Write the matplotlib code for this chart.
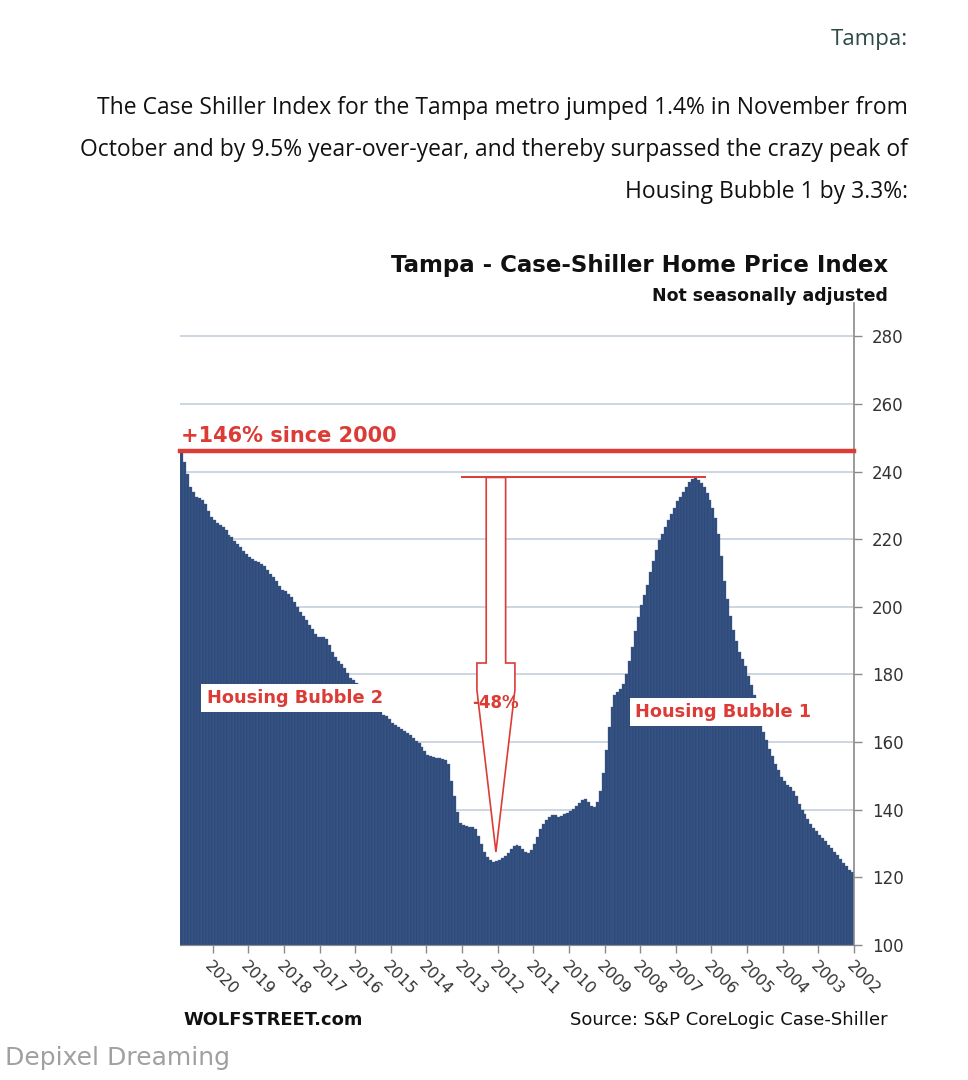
import matplotlib
matplotlib.use("Agg")
import matplotlib.pyplot as plt
from matplotlib.patches import Polygon

# ---------------- data ----------------
years = list(range(2002, 2021))
year_labels = [str(y) for y in years]

idx_2002 = [121.5, 122.3, 123.2, 124.3, 125.5, 126.6, 127.6, 128.6, 129.5, 130.6, 131.6, 132.5]
idx_2003 = [133.6, 134.5, 135.8, 137.3, 138.6, 139.9, 141.8, 144.2, 145.5, 146.6, 147.4, 148.4]
idx_2004 = [149.8, 151.6, 153.6, 155.8, 158.1, 160.6, 163.0, 166.2, 170.2, 173.8, 176.8, 179.6]
idx_2005 = [182.4, 184.6, 186.8, 189.8, 193.2, 197.4, 202.2, 207.6, 215.0, 221.6, 226.2, 229.2]
idx_2006 = [231.6, 233.6, 235.4, 236.8, 237.6, 238.1, 237.8, 236.9, 235.4, 234.0, 232.6, 231.2]
idx_2007 = [229.4, 227.6, 225.6, 223.6, 221.6, 219.8, 216.8, 213.6, 210.2, 206.6, 203.4, 200.6]
idx_2008 = [197.0, 192.8, 188.2, 184.0, 180.0, 177.2, 175.6, 174.8, 174.0, 170.4, 164.5, 157.8]
idx_2009 = [150.8, 145.4, 142.4, 140.8, 141.0, 142.2, 143.2, 143.0, 142.0, 141.2, 140.2, 139.6]
idx_2010 = [139.0, 138.6, 138.0, 137.8, 138.3, 138.5, 137.8, 136.9, 135.8, 134.2, 132.0, 129.8]
idx_2011 = [128.2, 127.2, 127.4, 128.4, 129.2, 129.6, 129.4, 128.4, 127.2, 126.4, 125.8, 125.2]
idx_2012 = [124.8, 124.5, 125.0, 126.1, 127.6, 129.8, 132.2, 134.2, 134.8, 135.0, 135.2, 135.6]
idx_2013 = [136.0, 139.2, 144.0, 148.6, 153.6, 154.8, 155.0, 155.2, 155.4, 155.7, 155.9, 156.2]
idx_2014 = [157.4, 158.6, 159.8, 160.4, 161.2, 162.0, 162.7, 163.3, 164.0, 164.6, 165.0, 165.6]
idx_2015 = [166.8, 167.6, 168.1, 169.4, 170.6, 171.8, 172.8, 173.8, 174.8, 175.8, 176.8, 177.6]
idx_2016 = [178.3, 179.0, 180.4, 181.9, 183.0, 184.0, 185.3, 186.8, 188.6, 190.4, 191.0, 191.1]
idx_2017 = [191.0, 192.0, 193.4, 194.6, 196.0, 197.2, 198.6, 199.9, 201.4, 202.9, 203.8, 204.6]
idx_2018 = [204.9, 206.2, 207.6, 208.8, 209.8, 211.0, 212.2, 212.8, 213.2, 213.6, 214.2, 214.8]
idx_2019 = [215.6, 216.4, 217.6, 218.7, 219.6, 220.6, 221.4, 222.8, 223.6, 224.2, 224.8, 225.6]
idx_2020 = [226.6, 228.4, 230.4, 231.6, 232.2, 232.6, 234.0, 235.6, 239.2, 242.8, 246.1]

index_values = (idx_2002 + idx_2003 + idx_2004 + idx_2005 + idx_2006 + idx_2007 +
                idx_2008 + idx_2009 + idx_2010 + idx_2011 + idx_2012 + idx_2013 +
                idx_2014 + idx_2015 + idx_2016 + idx_2017 + idx_2018 + idx_2019 + idx_2020)

latest_level = 246.1        # Nov 2020 -> "+146% since 2000"
bubble1_peak = 238.3        # 2006 peak
trough_level = 127.5        # 2012 trough (arrow tip)

y_ticks = [100, 120, 140, 160, 180, 200, 220, 240, 260, 280]

# ---------------- figure ----------------
W, H = 968, 1080
fig = plt.figure(figsize=(W / 100, H / 100), dpi=100)
fig.patch.set_facecolor("white")

def fx(x):
    return x / W

def fy(y):
    return 1 - y / H

ax_left, ax_right = 180, 854
ax_top, ax_bottom = 302.7, 944.9
ax = fig.add_axes([fx(ax_left), fy(ax_bottom), fx(ax_right - ax_left), (ax_bottom - ax_top) / H])

RED = "#DC3B36"
NAVY = "#2F4B7C"

months = list(range(len(index_values)))
ax.bar(months, [v - 100 for v in index_values], bottom=100, width=1.0,
       color=NAVY, edgecolor="#4a6390", linewidth=0.25, zorder=2)

ax.set_xlim(226.5, -0.5)
ax.set_ylim(100, 290)

# grid
ax.set_yticks(y_ticks)
ax.yaxis.grid(True, color="#c9d2df", linewidth=1.3, zorder=0)
ax.set_axisbelow(True)

ax.yaxis.tick_right()
ax.tick_params(axis="y", direction="out", length=6, width=1, color="#8a8a8a",
               labelsize=12, labelcolor="#333333", pad=7)
for s in ["left", "top"]:
    ax.spines[s].set_visible(False)
ax.spines["right"].set_color("#8a8a8a")
ax.spines["right"].set_linewidth(1.2)
ax.spines["bottom"].set_color("#8a8a8a")

xt = [12 * i - 0.5 for i in range(len(years))]
ax.set_xticks(xt)
ax.set_xticklabels(year_labels, rotation=-45, ha="left", va="top",
                   rotation_mode="anchor", fontsize=11.5, color="#333333")
ax.tick_params(axis="x", direction="out", length=6, width=1, color="#8a8a8a", pad=4)

# thick red line: latest level
ax.axhline(latest_level, color=RED, linewidth=3.2, zorder=4, clip_on=False)
ax.text(226.0, latest_level + 1.4, "+146% since 2000", color=RED, fontsize=15,
        fontweight="bold", ha="left", va="bottom", zorder=5)

# thin red line at the bubble 1 peak
ax.plot([49.6, 131.6], [bubble1_peak, bubble1_peak], color=RED, linewidth=1.4, zorder=4)

# block arrow from the peak to the trough
cx = 120.1
sw = 3.27
hw = 6.4
shaft_bottom = 183.4
head_straight = 175.4
arrow = Polygon([(cx - sw, bubble1_peak), (cx + sw, bubble1_peak), (cx + sw, shaft_bottom),
                 (cx + hw, shaft_bottom), (cx + hw, head_straight), (cx, trough_level),
                 (cx - hw, head_straight), (cx - hw, shaft_bottom), (cx - sw, shaft_bottom)],
                closed=True, facecolor="white", edgecolor=RED, linewidth=1.2, zorder=5)
ax.add_patch(arrow)
ax.text(cx, 171.5, "-48%", color=RED, fontsize=12, fontweight="bold",
        ha="center", va="center", zorder=6)

box = dict(boxstyle="square,pad=0.3", facecolor="white", edgecolor="none")
ax.text(187.9, 173.0, "Housing Bubble 2", color=RED, fontsize=12.8, fontweight="bold",
        ha="center", va="center", bbox=box, zorder=6)
ax.text(43.5, 168.9, "Housing Bubble 1", color=RED, fontsize=12.8, fontweight="bold",
        ha="center", va="center", bbox=box, zorder=6)

# chart titles
fig.text(fx(888), fy(266), "Tampa - Case-Shiller Home Price Index", ha="right", va="center",
         fontsize=16.5, fontweight="bold", family="DejaVu Sans", color="#111111")
fig.text(fx(888), fy(296), "Not seasonally adjusted", ha="right", va="center",
         fontsize=12.5, fontweight="bold", family="DejaVu Sans", color="#111111")

# footer
fig.text(fx(888), fy(1020), "Source: S&P CoreLogic Case-Shiller", ha="right", va="center",
         fontsize=13, family="DejaVu Sans", color="#111111")
fig.text(fx(183), fy(1020), "WOLFSTREET.com", ha="left", va="center",
         fontsize=12.9, fontweight="bold", family="DejaVu Sans", color="#111111")

# article header
fig.text(fx(908), fy(40), "Tampa:", ha="right", va="center", fontsize=16,
         family="Open Sans", color="#2d4a47")
para = ["The Case Shiller Index for the Tampa metro jumped 1.4% in November from",
        "October and by 9.5% year-over-year, and thereby surpassed the crazy peak of",
        "Housing Bubble 1 by 3.3%:"]
for i, line in enumerate(para):
    fig.text(fx(908), fy(108 + 42 * i), line, ha="right", va="center", fontsize=16.5,
             family="Open Sans", color="#111111")

fig.text(fx(5), fy(1058), "Depixel Dreaming", ha="left", va="center", fontsize=18,
         family="DejaVu Sans", color="#a0a0a0")

fig.savefig("out.png", dpi=100, facecolor="white")
